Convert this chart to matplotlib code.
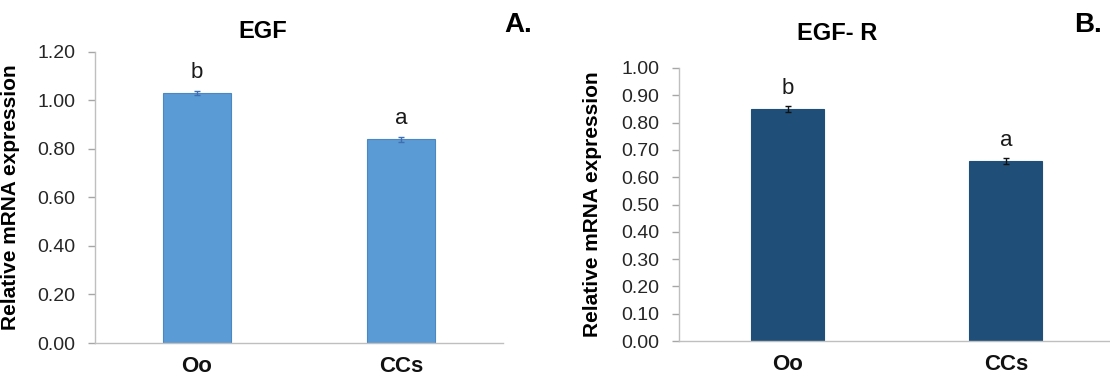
import numpy as np
import matplotlib.pyplot as plt

plt.rcParams['font.family'] = ['Liberation Sans', 'DejaVu Sans']

groups = ['Oo', 'CCs']

egf_mean = [1.03, 0.84]
egf_err = [0.01, 0.01]
egf_sig = ['b', 'a']

egfr_mean = [0.85, 0.66]
egfr_err = [0.01, 0.01]
egfr_sig = ['b', 'a']

fig = plt.figure(figsize=(11.1, 3.8), dpi=100)

ax_a = fig.add_axes([95 / 1110, 1 - 343 / 380, 408 / 1110, 291.3 / 380])
ax_b = fig.add_axes([679 / 1110, 1 - 341 / 380, 431 / 1110, 273 / 380])


def draw_panel(ax, means, errs, sig, color, edge, ecolor, ymax, step, xright):
    x = np.arange(len(groups))
    ax.bar(x, means, width=0.335, color=color, edgecolor=edge, linewidth=0.8)
    ax.errorbar(x, means, yerr=errs, fmt='none', ecolor=ecolor,
                elinewidth=1, capsize=2.5, capthick=1)
    for xi, m, e, s in zip(x, means, errs, sig):
        ax.text(xi, m + e + 0.025 * ymax, s, ha='center', va='bottom',
                fontsize=16, color='#1a1a1a')

    ax.set_xlim(-0.5, xright)
    ax.set_ylim(0, ymax)
    ax.set_yticks(np.arange(0, ymax + step / 2, step))
    ax.yaxis.set_major_formatter(plt.FormatStrFormatter('%.2f'))
    ax.set_xticks(x)
    ax.set_xticklabels(groups, fontsize=16, fontweight='bold')

    for side in ['top', 'right']:
        ax.spines[side].set_visible(False)
    for side in ['left', 'bottom']:
        ax.spines[side].set_color('#bfbfbf')
        ax.spines[side].set_linewidth(1)
    ax.tick_params(axis='y', colors='#a6a6a6', length=5, width=1,
                   labelcolor='#262626', labelsize=14, pad=9)
    ax.tick_params(axis='x', length=0, pad=9, labelcolor='#111111')
    ax.set_ylabel('Relative mRNA expression', fontsize=15, fontweight='bold')


draw_panel(ax_a, egf_mean, egf_err, egf_sig, '#5b9bd5', '#4a88c4', '#3f6fb0',
           1.2, 0.2, 1.5)
draw_panel(ax_b, egfr_mean, egfr_err, egfr_sig, '#1f4e79', '#1f4e79', '#111111',
           1.0, 0.1, 1.478)

# place the rotated y labels at a fixed pixel column
ax_a.yaxis.set_label_coords((20 - 95) / 408, 0.5)
ax_b.yaxis.set_label_coords((602 - 679) / 431, 0.5)

fig.text(263 / 1110, 1 - 32 / 380, 'EGF', ha='center', va='center',
         fontsize=17, fontweight='bold')
fig.text(837 / 1110, 1 - 33 / 380, 'EGF- R', ha='center', va='center',
         fontsize=17, fontweight='bold')
fig.text(518 / 1110, 1 - 25 / 380, 'A.', ha='center', va='center',
         fontsize=20, fontweight='bold')
fig.text(1088 / 1110, 1 - 25 / 380, 'B.', ha='center', va='center',
         fontsize=20, fontweight='bold')

fig.savefig('out.png', dpi=100)
